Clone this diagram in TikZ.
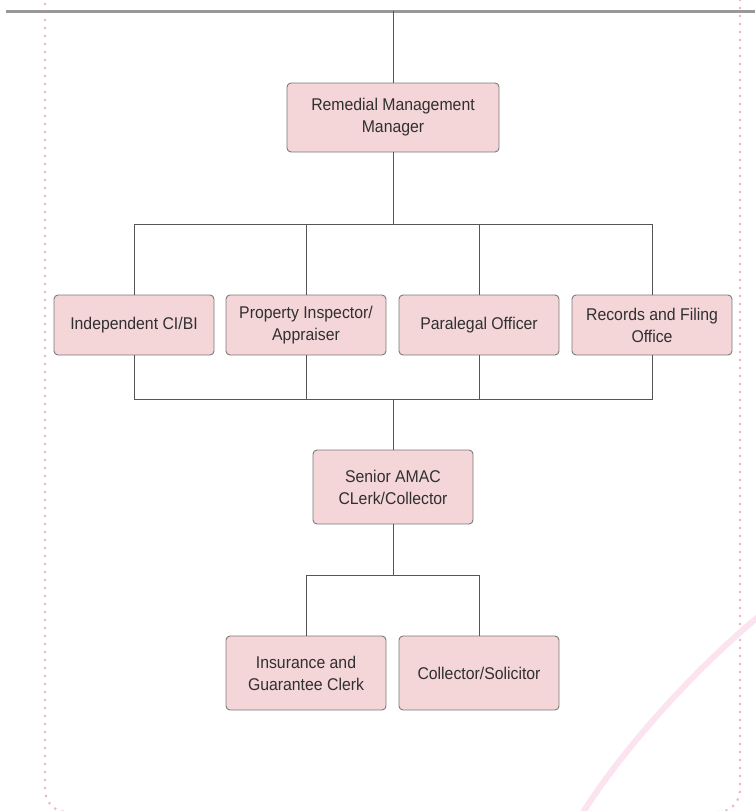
\documentclass[tikz,border=0pt]{standalone}
\usepackage{fontspec}
\setmainfont{Liberation Sans}[FakeStretch=0.93]
\begin{document}
\definecolor{boxfill}{HTML}{F4D5D8}
\definecolor{boxline}{HTML}{7A7A7A}
\definecolor{txt}{HTML}{303030}
\definecolor{wire}{HTML}{555555}
\definecolor{rule}{HTML}{999999}
\definecolor{framepink}{HTML}{F3B9C2}
\definecolor{swoosh}{HTML}{FBE3EF}
\begin{tikzpicture}[x=1pt,y=-1pt,
  post/.style={draw=boxline, line width=0.9pt, fill=boxfill, rounded corners=4pt,
    minimum width=160pt, minimum height=60pt, inner sep=0pt, align=center,
    text=txt, font=\fontsize{17}{22}\selectfont},
  wirestyle/.style={draw=wire, line width=1pt},
  framedots/.style={draw=framepink, line width=2.2pt, dash pattern=on 2.2pt off 5.8pt, rounded corners=22pt},
]
\useasboundingbox (0,0) rectangle (755,811);

% decorative frame and swoosh
\draw[framedots] (45,-5) -- (45,812) -- (740,812) -- (740,-5);
\draw[swoosh, line width=6pt] (758,617) .. controls (700,665) and (625,745) .. (582,814);

% top rule
\draw[rule, line width=3pt] (6,11) -- (755,11);

% positions
\node[post, minimum width=212pt, minimum height=69pt] (mgr) at (393,117.5) {Remedial Management\\Manager};
\node[post] (ind)  at (134,325) {Independent CI/BI};
\node[post] (prop) at (306,325) {Property Inspector/\\Appraiser};
\node[post] (para) at (479,325) {Paralegal Officer};
\node[post] (rec)  at (652,325) {Records and Filing\\Office};
\node[post, minimum height=74pt] (sen) at (393,487) {Senior AMAC\\CLerk/Collector};
\node[post, minimum height=74pt] (ins) at (306,673) {Insurance and\\Guarantee Clerk};
\node[post, minimum height=74pt] (col) at (479,673) {Collector/Solicitor};

\coordinate (root) at (393,11);
\coordinate (busA) at (393,224);
\coordinate (busB) at (393,399);
\coordinate (busC) at (393,575);

% connectors
\draw[wirestyle] (root) -- (mgr.north);
\draw[wirestyle] (mgr.south) -- (busA);
\foreach \n in {ind,prop,para,rec} {
  \draw[wirestyle] (\n.north) |- (busA);
  \draw[wirestyle] (\n.south) |- (busB);
}
\draw[wirestyle] (busB) -- (sen.north);
\draw[wirestyle] (sen.south) -- (busC);
\draw[wirestyle] (ins.north) |- (busC);
\draw[wirestyle] (col.north) |- (busC);
\end{tikzpicture}
\end{document}
